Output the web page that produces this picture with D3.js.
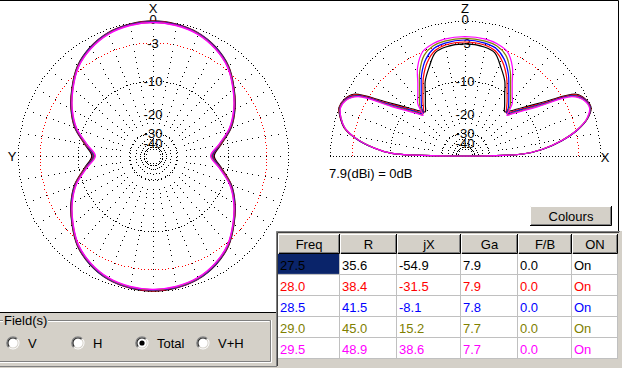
<!DOCTYPE html>
<html>
<head>
<meta charset="utf-8">
<script src="https://cdn.jsdelivr.net/npm/d3@7"></script>
<style>
body { margin: 0; background: #fff; }
svg { display: block; font-family: Arial, "Liberation Sans", sans-serif; }
</style>
</head>
<body>
<script>
// Frequencies and the results table
var freqs = ["27.5", "28.0", "28.5", "29.0", "29.5"];
var resist = ["35.6", "38.4", "41.5", "45.0", "48.9"];
var react = ["-54.9", "-31.5", "-8.1", "15.2", "38.6"];
var gain = ["7.9", "7.9", "7.8", "7.7", "7.7"];
var fbRatio = ["0.0", "0.0", "0.0", "0.0", "0.0"];
var onState = ["On", "On", "On", "On", "On"];
var colHeads = ["Freq", "R", "jX", "Ga", "F/B", "ON"];
var traceColors = ["#000000", "#ff0000", "#0000ff", "#808000", "#ff00ff"];

// scale labels (dB) and field options
var ringLabels = ["0", "-3", "-10", "-20", "-30", "-40"];
var ringDb = [0, -3, -10, -30, -50];
var fieldOptions = ["V", "H", "Total", "V+H"];
var refText = "7.9(dBi) = 0dB";

// azimuth pattern, one quadrant (pattern is symmetric), dB below 7.9 dBi
var azAngles = [0, 10, 20, 30, 40, 50, 60, 70, 80, 90];
var az275 = [0, -0.15, -0.5, -1.25, -2.4, -4.2, -6.1, -8.3, -11.4, -13.6];
var az280 = [-0.03, -0.17, -0.52, -1.3, -2.45, -4.25, -6.15, -8.4, -11.55, -13.9];
var az285 = [-0.08, -0.2, -0.56, -1.33, -2.5, -4.3, -6.2, -8.5, -11.7, -14.1];
var az290 = [-0.15, -0.27, -0.62, -1.4, -2.55, -4.35, -6.3, -8.6, -11.85, -14.35];
var az295 = [-0.2, -0.32, -0.68, -1.45, -2.6, -4.4, -6.35, -8.7, -12.0, -14.6];

// elevation pattern, 0 = horizon toward +X, 90 = zenith
var elAngles = [0, 2, 5, 9, 13, 17, 21, 25, 29, 34, 38, 42, 44, 46, 48, 52, 57, 62, 68, 74, 80, 90,
    100, 106, 112, 118, 123, 128, 132, 134, 136, 138, 142, 146, 151, 155, 159, 163, 167, 171, 175, 178, 180];
var el275 = [-40, -14.5, -9.4, -5.5, -2.7, -0.9, 0, -0.2, -1.0, -5.5, -8.7, -11.2, -12.4, -13.3, -14.1, -12.7, -10.6, -8.0, -5.9, -3.9, -3.4, -3.2,
    -3.4, -3.9, -5.9, -8.0, -10.6, -12.7, -14.1, -13.3, -12.4, -11.2, -8.7, -5.5, -1.0, -0.2, 0, -0.6, -1.5, -3.5, -6.7, -10.5, -40];
var el280 = [-40, -14.5, -9.4, -5.5, -2.7, -0.9, -0.05, -0.25, -1.2, -6.0, -9.2, -11.7, -13.0, -14.0, -13.4, -11.7, -9.6, -7.2, -5.0, -3.6, -3.1, -2.9,
    -3.1, -3.6, -5.0, -7.2, -9.6, -11.7, -13.4, -14.0, -13.0, -11.7, -9.2, -6.0, -1.2, -0.25, -0.05, -0.6, -1.5, -3.5, -6.7, -10.5, -40];
var el285 = [-40, -14.5, -9.4, -5.5, -2.7, -0.9, -0.1, -0.3, -1.35, -6.4, -9.6, -12.2, -13.6, -13.9, -12.6, -11.0, -8.9, -6.5, -4.4, -3.2, -2.8, -2.6,
    -2.8, -3.2, -4.4, -6.5, -8.9, -11.0, -12.6, -13.9, -13.6, -12.2, -9.6, -6.4, -1.35, -0.3, -0.1, -0.65, -1.55, -3.5, -6.7, -10.5, -40];
var el290 = [-40, -14.6, -9.5, -5.6, -2.8, -0.95, -0.15, -0.4, -1.5, -6.9, -10.1, -12.7, -14.1, -13.4, -11.9, -10.3, -8.2, -5.8, -3.7, -2.8, -2.5, -2.35,
    -2.5, -2.8, -3.7, -5.8, -8.2, -10.3, -11.9, -13.4, -14.1, -12.7, -10.1, -6.9, -1.5, -0.4, -0.15, -0.7, -1.6, -3.6, -6.8, -10.6, -40];
var el295 = [-40, -14.6, -9.5, -5.6, -2.8, -1.0, -0.2, -0.45, -1.7, -7.3, -10.5, -13.1, -14.4, -12.8, -11.1, -9.7, -7.6, -5.0, -3.1, -2.5, -2.2, -2.1,
    -2.2, -2.5, -3.1, -5.0, -7.6, -9.7, -11.1, -12.8, -14.4, -13.1, -10.5, -7.3, -1.7, -0.45, -0.2, -0.7, -1.6, -3.6, -6.8, -10.6, -40];

var azSeries = [az275, az280, az285, az290, az295];
var elSeries = [el275, el280, el285, el290, el295];

var width = 622;
var height = 368;
var R = 135;          // radius of the 0 dB ring
var gray = "#d4d0c8";

// ARRL log scale: fraction of full radius <-> dB
var dbScale = d3.scaleLog()
    .domain([1, Math.pow(0.89, 25)])
    .range([0, -50]);
function rad(db) { return R * dbScale.invert(db); }

var angle = d3.scaleLinear()
    .domain([0, 360])
    .range([0, 2 * Math.PI]);

var svg = d3.select("body")
    .append("svg")
    .attr("width", width)
    .attr("height", height);

// background panels
svg.append("rect").attr("width", width).attr("height", height).attr("fill", "#fff");
svg.append("rect").attr("x", 0).attr("y", 313).attr("width", 277).attr("height", 55).attr("fill", gray);
svg.append("path").attr("d", "M0,0.5H618.5V231").attr("fill", "none").attr("stroke", "#000");
svg.append("path").attr("d", "M0,312.5H277").attr("fill", "none").attr("stroke", "#000");

function dots(g, pts, color) {
    g.append("g").selectAll("rect")
        .data(pts)
        .enter().append("rect")
        .attr("x", function(d) { return Math.round(d[0]); })
        .attr("y", function(d) { return Math.round(d[1]); })
        .attr("width", 1)
        .attr("height", 1)
        .attr("fill", color);
}

// dotted rings + spokes, full circle or upper half
function drawGrid(g, half) {
    ringDb.forEach(function(db) {
        var r = rad(db);
        var n = Math.round(2 * Math.PI * r / 3.4);
        var pts = [];
        for (var i = 0; i < n; i++) {
            var a = 2 * Math.PI * i / n;
            var p = [r * Math.sin(a), -r * Math.cos(a)];
            if (!half || p[1] <= 0.5) pts.push(p);
        }
        dots(g, pts, db === -3 ? "#ff0000" : "#000");
    });

    var spokeDb = d3.range(-1, -12, -1).concat(d3.range(-12, -24, -2), d3.range(-24, -47, -5.5));
    var spokeAng = half ? d3.range(-80, 81, 10) : d3.range(0, 360, 10);
    var pts = [];
    spokeAng.forEach(function(a) {
        spokeDb.forEach(function(db) {
            var r = rad(db);
            pts.push([r * Math.sin(angle(a)), -r * Math.cos(angle(a))]);
        });
    });
    if (half) {
        for (var x = -R; x <= R + 3; x += 3) pts.push([x, 0]);
    }
    dots(g, pts, "#000");
}

function drawLabels(g) {
    g.selectAll(".lab")
        .data(ringLabels)
        .enter().append("text")
        .attr("class", "lab")
        .attr("x", 0)
        .attr("y", function(d) { return d === "0" ? -rad(0) + 3 : -rad(+d) + 5; })
        .attr("text-anchor", "middle")
        .attr("font-size", 13)
        .text(function(d) { return d; });
}

// Azimuth plot (left)
var az = svg.append("g").attr("transform", "translate(153,156)");
drawGrid(az, false);
drawLabels(az);
az.append("text").attr("x", 0).attr("y", -143).attr("text-anchor", "middle").attr("font-size", 13).text("X");
az.append("text").attr("x", -141).attr("y", 5).attr("text-anchor", "middle").attr("font-size", 13).text("Y");

function azPoints(vals) {
    var pts = [];
    azAngles.forEach(function(a, i) {
        [a, 180 - a, 180 + a, 360 - a].forEach(function(b) { pts.push([b % 360, vals[i]]); });
    });
    pts.sort(function(p, q) { return p[0] - q[0]; });
    return pts.filter(function(p, i) { return i === 0 || p[0] !== pts[i - 1][0]; });
}

var azLine = d3.lineRadial()
    .angle(function(d) { return -angle(d[0]); })
    .radius(function(d) { return rad(d[1]); })
    .curve(d3.curveCatmullRomClosed);

azSeries.forEach(function(vals, i) {
    az.append("path")
        .attr("d", azLine(azPoints(vals)))
        .attr("fill", "none")
        .attr("stroke", traceColors[i])
        .attr("stroke-width", 1.4);
});

// Elevation plot (right)
var el = svg.append("g").attr("transform", "translate(465,156)");
drawGrid(el, true);
drawLabels(el);
el.append("text").attr("x", 0).attr("y", -143).attr("text-anchor", "middle").attr("font-size", 13).text("Z");
el.append("text").attr("x", 140).attr("y", 6).attr("text-anchor", "middle").attr("font-size", 13).text("X");

var elLine = d3.lineRadial()
    .angle(function(d) { return angle(90 - d[0]); })
    .radius(function(d) { return rad(d[1]); })
    .curve(d3.curveCatmullRom);

elSeries.forEach(function(vals, i) {
    var pts = elAngles.map(function(a, j) { return [a, vals[j]]; });
    el.append("path")
        .attr("d", elLine(pts) + "Z")
        .attr("fill", "none")
        .attr("stroke", traceColors[i])
        .attr("stroke-width", 1.2);
});

svg.append("text").attr("x", 329).attr("y", 178).attr("font-size", 13).text(refText);

// Colours button
var btn = svg.append("g").attr("transform", "translate(530,206)");
btn.append("rect").attr("width", 82).attr("height", 20).attr("fill", gray);
btn.append("path").attr("d", "M0.5,19V0.5H81").attr("fill", "none").attr("stroke", "#fff");
btn.append("path").attr("d", "M0,19.5H81.5V0").attr("fill", "none").attr("stroke", "#000");
btn.append("path").attr("d", "M1,18.5H80.5V1").attr("fill", "none").attr("stroke", "#808080");
btn.append("text").attr("x", 41).attr("y", 14.5).attr("text-anchor", "middle").attr("font-size", 13).text("Colours");

// Table
var colX = [278, 340, 397, 461, 518, 572, 618];
var headTop = 234, headH = 20, rowH = 20.9;
var tbl = svg.append("g");
tbl.append("rect").attr("x", 276).attr("y", 231).attr("width", 346).attr("height", 137).attr("fill", gray);
tbl.append("path").attr("d", "M276.5,366V231.5H620").attr("fill", "none").attr("stroke", "#808080");
tbl.append("path").attr("d", "M277.5,366V232.5H619").attr("fill", "none").attr("stroke", "#404040");
tbl.append("rect").attr("x", 278).attr("y", headTop + headH).attr("width", 340).attr("height", rowH * 5).attr("fill", "#fff");

colHeads.forEach(function(h, c) {
    var x0 = colX[c], x1 = colX[c + 1];
    tbl.append("rect").attr("x", x0).attr("y", headTop).attr("width", x1 - x0).attr("height", headH).attr("fill", gray);
    tbl.append("path").attr("d", "M" + (x0 + 0.5) + "," + (headTop + headH - 1) + "V" + (headTop + 0.5) + "H" + (x1 - 1))
        .attr("fill", "none").attr("stroke", "#fff");
    tbl.append("path").attr("d", "M" + (x0 + 1) + "," + (headTop + headH - 0.5) + "H" + (x1 - 0.5) + "V" + headTop)
        .attr("fill", "none").attr("stroke", "#000");
    tbl.append("path").attr("d", "M" + (x0 + 1) + "," + (headTop + headH - 1.5) + "H" + (x1 - 1.5) + "V" + (headTop + 1))
        .attr("fill", "none").attr("stroke", "#808080");
    tbl.append("text").attr("x", (x0 + x1) / 2).attr("y", headTop + 15).attr("text-anchor", "middle")
        .attr("font-size", 13).text(h);
});

var rows = freqs.map(function(f, i) { return [f, resist[i], react[i], gain[i], fbRatio[i], onState[i]]; });
rows.forEach(function(row, r) {
    var y0 = headTop + headH + r * rowH;
    if (r === 0) {
        tbl.append("rect").attr("x", colX[0]).attr("y", y0).attr("width", colX[1] - colX[0] - 1).attr("height", rowH - 1).attr("fill", "#0a246a");
    }
    tbl.append("line").attr("x1", colX[0]).attr("x2", colX[6]).attr("y1", Math.round(y0 + rowH) - 0.5).attr("y2", Math.round(y0 + rowH) - 0.5)
        .attr("stroke", "#c0c0c0");
    row.forEach(function(v, c) {
        tbl.append("text").attr("x", colX[c] + 2).attr("y", y0 + 16).attr("font-size", 13)
            .attr("fill", traceColors[r]).text(v);
    });
});
colX.slice(1).forEach(function(x) {
    tbl.append("line").attr("x1", x - 0.5).attr("x2", x - 0.5).attr("y1", headTop + headH).attr("y2", headTop + headH + rowH * 5)
        .attr("stroke", "#c0c0c0");
});

// Field(s) group box
var grp = svg.append("g");
grp.append("path").attr("d", "M-2,320.5H270.5V361.5H-2").attr("fill", "none").attr("stroke", "#808080");
grp.append("path").attr("d", "M-2,321.5H269.5M271.5,320V362.5H-2").attr("fill", "none").attr("stroke", "#fff");
grp.append("rect").attr("x", 3).attr("y", 314).attr("width", 45).attr("height", 12).attr("fill", gray);
grp.append("text").attr("x", 4).attr("y", 325).attr("font-size", 13).text("Field(s)");

var radioX = [13, 78, 142, 203];
fieldOptions.forEach(function(f, i) {
    var cx = radioX[i], cy = 343;
    var at = "translate(" + cx + "," + cy + ")";
    grp.append("circle").attr("cx", cx).attr("cy", cy).attr("r", 6.5).attr("fill", "#fff");
    grp.append("path").attr("d", d3.arc()({ innerRadius: 5.5, outerRadius: 6.8, startAngle: -3 * Math.PI / 4, endAngle: Math.PI / 4 }))
        .attr("transform", at).attr("fill", "#808080");
    grp.append("path").attr("d", d3.arc()({ innerRadius: 4.5, outerRadius: 5.6, startAngle: -3 * Math.PI / 4, endAngle: Math.PI / 4 }))
        .attr("transform", at).attr("fill", "#202020");
    grp.append("path").attr("d", d3.arc()({ innerRadius: 4.6, outerRadius: 5.6, startAngle: Math.PI / 4, endAngle: 5 * Math.PI / 4 }))
        .attr("transform", at).attr("fill", gray);
    if (f === "Total") {
        grp.append("circle").attr("cx", cx).attr("cy", cy).attr("r", 2.6).attr("fill", "#000");
    }
    grp.append("text").attr("x", cx + 15).attr("y", cy + 5).attr("font-size", 13).text(f);
});
grp.append("line").attr("x1", 0).attr("x2", 277).attr("y1", 366.5).attr("y2", 366.5).attr("stroke", "#808080");
</script>
</body>
</html>
